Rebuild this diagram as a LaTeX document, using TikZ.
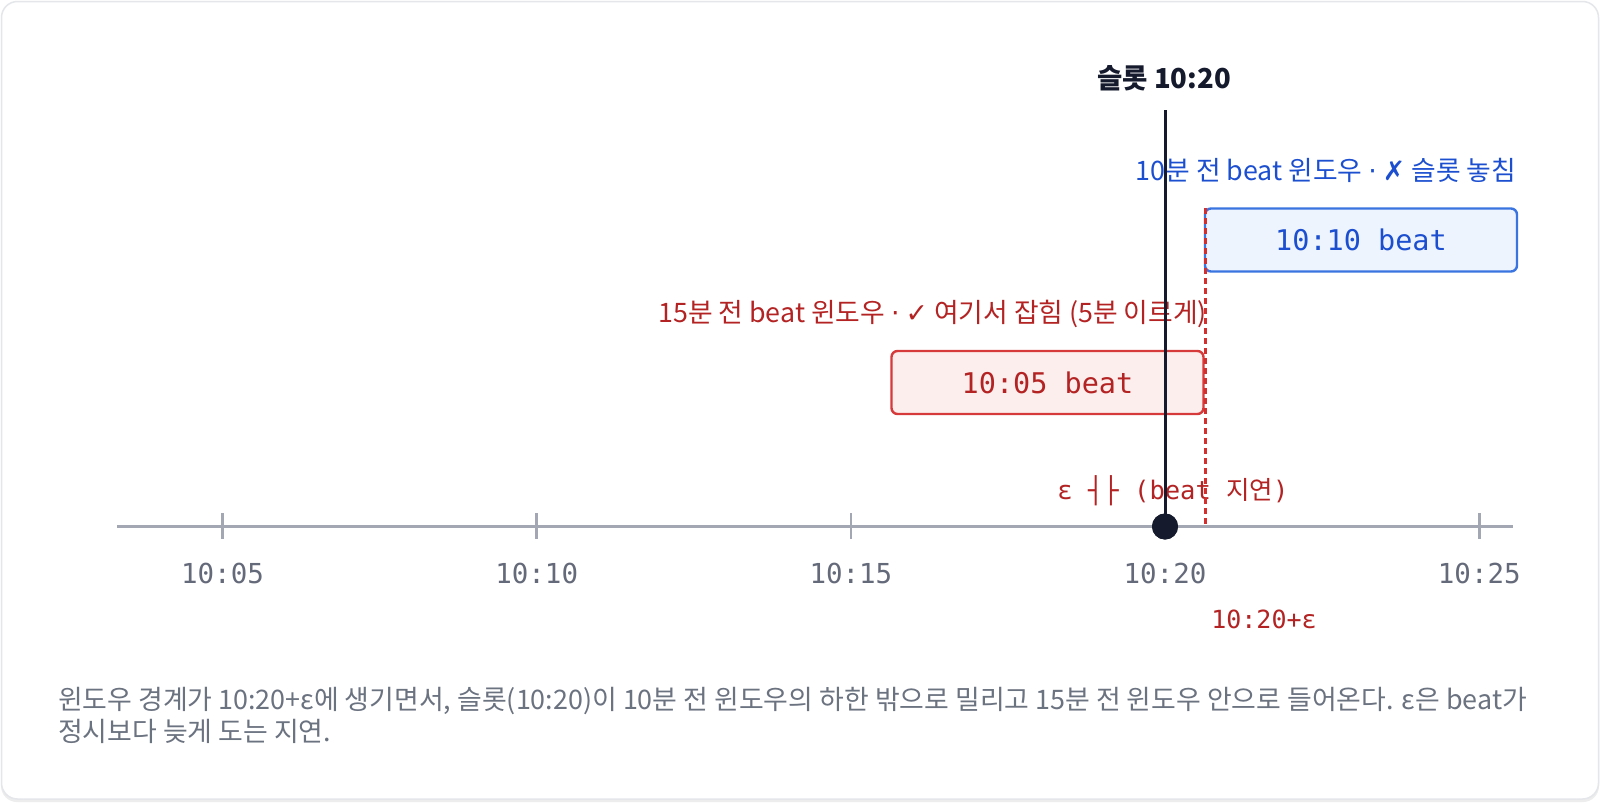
\documentclass[tikz,border=0pt]{standalone}
\usepackage{fontspec}
\setmainfont{Noto Sans CJK KR}
\setmonofont{DejaVu Sans Mono}
\newfontfamily\krfont{Noto Sans CJK KR}
\newfontfamily\symfont{DejaVu Sans}
\usetikzlibrary{positioning}

\definecolor{axisgray}{HTML}{A3A6B3}
\definecolor{tickgray}{HTML}{656A7A}
\definecolor{slotdark}{HTML}{151A2D}
\definecolor{epsred}{HTML}{D62D2D}
\definecolor{redtext}{HTML}{B42323}
\definecolor{redfill}{HTML}{FDEEEE}
\definecolor{redline}{HTML}{D63A3A}
\definecolor{bluetext}{HTML}{1C4FD0}
\definecolor{bluefill}{HTML}{EEF4FE}
\definecolor{blueline}{HTML}{3A74E0}
\definecolor{captiongray}{HTML}{6B7280}
\definecolor{cardline}{HTML}{E4E6EA}

\begin{document}
\begin{tikzpicture}[x=1pt,y=-1pt,
        every node/.style={inner sep=0pt,outer sep=0pt},
        axisline/.style={draw=axisgray,line width=2.5pt},
        ticklabel/.style={font=\fontsize{27.5}{30}\selectfont\ttfamily,text=tickgray,anchor=base},
        slotline/.style={draw=slotdark,line width=3pt},
        slotdot/.style={circle,fill=slotdark,minimum size=26pt},
        epsline/.style={draw=epsred,line width=2.2pt,dash pattern=on 6pt off 4pt},
        beatbox/.style={draw,rounded corners=6pt,line width=2.4pt,minimum width=312pt,minimum height=63pt,
            font=\fontsize{28.5}{30}\selectfont\ttfamily},
        winlabel/.style={font=\fontsize{26.8}{30}\selectfont,anchor=base east}]
    \useasboundingbox (0,0) rectangle (1600,803);
    \fill[white] (0,0) rectangle (1600,803);
    % card
    \fill[black!7,rounded corners=16pt] (1,4) rectangle (1599,802);
    \draw[cardline,fill=white,line width=1.5pt,rounded corners=16pt] (1.5,1.5) rectangle (1598.5,799);

    % time axis
    \coordinate (axisL) at (117,526.5);
    \coordinate (axisR) at (1513,526.5);
    \draw[axisline] (axisL) -- (axisR);
    \foreach \x/\t in {222.5/10:05,536.7/10:10,850.9/10:15,1165/10:20,1479.3/10:25} {
        \draw[axisline] (\x,513) -- (\x,539);
        \node[ticklabel] (tick\x) at (\x,583) {\t};
    }

    % beat windows
    \node[winlabel,text=bluetext] (win10label) at (1516,180)
        {10분 전 beat 윈도우 {\symfont ·} {\symfont\bfseries ✗} 슬롯 놓침};
    \node[beatbox,draw=blueline,fill=bluefill,text=bluetext] (win10) at (1361,240) {10:10 beat};
    \node[winlabel,text=redtext] (win15label) at (1207,322)
        {15분 전 beat 윈도우 {\symfont ·} {\symfont ✓} 여기서 잡힘 (5분 이르게)};
    \node[beatbox,draw=redline,fill=redfill,text=redtext] (win15) at (1047.5,382.5) {10:05 beat};

    % epsilon delay
    \node[font=\fontsize{25.5}{28}\selectfont\ttfamily,text=redtext,anchor=base] (delay) at (1173,499)
        {ε ┤├ (beat {\krfont 지연})};
    \coordinate (epstop) at (1205.5,208);
    \coordinate (epsaxis) at (1205.5,526.5);
    \draw[epsline] (epstop) -- (epsaxis);
    \node[font=\fontsize{25}{28}\selectfont\ttfamily,text=redtext,anchor=base] (epslabel) at (1264,628) {10:20+ε};

    % slot
    \node[font=\fontsize{27.5}{30}\selectfont\bfseries,text=slotdark,anchor=base] (slotname) at (1164,88) {슬롯 10:20};
    \coordinate (slottop) at (1165,110);
    \node[slotdot] (slot) at (1165,526.5) {};
    \draw[slotline] (slottop) -- (slot.center);
    \node[slotdot] at (slot) {};

    % caption
    \node[font=\fontsize{26.9}{32}\selectfont,text=captiongray,anchor=base west,align=left] (caption) at (58,741)
        {윈도우 경계가 10:20+ε에 생기면서, 슬롯(10:20)이 10분 전 윈도우의 하한 밖으로 밀리고 15분 전 윈도우 안으로 들어온다. ε은 beat가\\
         정시보다 늦게 도는 지연.};
\end{tikzpicture}
\end{document}
